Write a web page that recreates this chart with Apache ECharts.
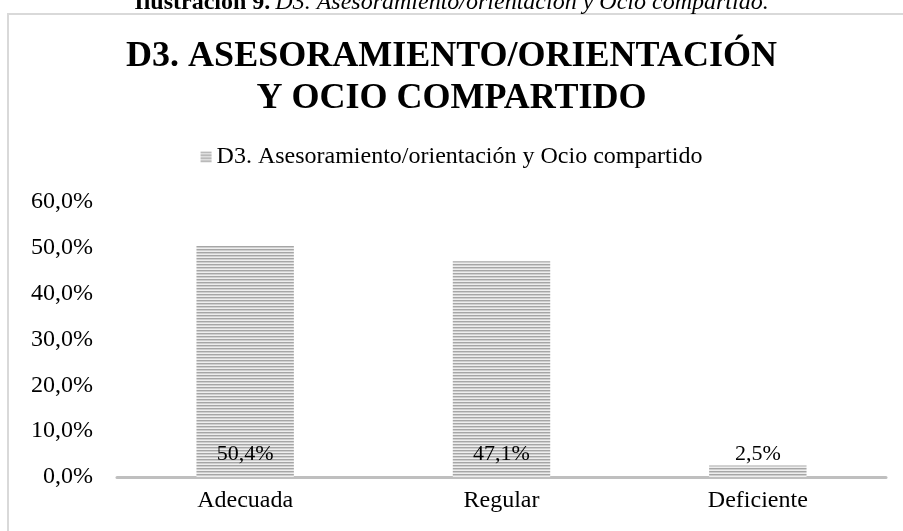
<!DOCTYPE html>
<html>
<head>
<meta charset="utf-8">
<script src="https://cdn.jsdelivr.net/npm/echarts@6/dist/echarts.min.js"></script>
<style>
  html, body { margin: 0; padding: 0; background: #fff; }
  #chart { width: 903px; height: 531px; }
</style>
</head>
<body>
<div id="chart"></div>
<script>
// datos del gráfico
var categories = ['Adecuada', 'Regular', 'Deficiente'];
var values = [50.4, 47.1, 2.5];
var seriesName = 'D3. Asesoramiento/orientación y Ocio compartido';
var yTicks = [0, 10, 20, 30, 40, 50, 60];

// trama de rayas horizontales (como el relleno de Excel)
function stripes() {
  var c = document.createElement('canvas');
  c.width = 4; c.height = 3;
  var ctx = c.getContext('2d');
  ctx.fillStyle = '#a6a6a6'; ctx.fillRect(0, 0, 4, 1);
  ctx.fillStyle = '#cfcfcf'; ctx.fillRect(0, 1, 4, 1);
  ctx.fillStyle = '#eeeeee'; ctx.fillRect(0, 2, 4, 1);
  return c;
}
var pattern = { image: stripes(), repeat: 'repeat' };

var chart = echarts.init(document.getElementById('chart'));
var font = '"Liberation Serif", "Times New Roman", serif';

var option = {
  backgroundColor: '#fff',
  animation: false,
  title: [{
    text: '{b|Ilustración 9.} {i|' + seriesName + '.}',
    left: 'center',
    top: -14,
    textStyle: {
      rich: {
        b: { fontFamily: font, fontSize: 24, fontWeight: 'bold', color: '#000' },
        i: { fontFamily: font, fontSize: 24, fontStyle: 'italic', fontWeight: 'normal', color: '#000' }
      }
    }
  }, {
    text: 'D3. ASESORAMIENTO/ORIENTACIÓN\nY OCIO COMPARTIDO',
    left: 'center',
    top: 31,
    textStyle: {
      fontFamily: font, fontSize: 36, fontWeight: 'bold', color: '#000',
      lineHeight: 42
    }
  }],
  graphic: [{
    type: 'rect',
    shape: { x: 8, y: 14, width: 920, height: 540 },
    style: { fill: null, stroke: '#d9d9d9', lineWidth: 2 },
    silent: true
  }],
  legend: {
    top: 140,
    left: 'center',
    itemWidth: 11,
    itemHeight: 11,
    itemGap: 6,
    icon: 'rect',
    textStyle: { fontFamily: font, fontSize: 24, color: '#000' },
    data: [{ name: seriesName, itemStyle: { color: pattern } }]
  },
  grid: { left: 117, right: 17, top: 202, bottom: 54 },
  xAxis: {
    type: 'category',
    data: categories,
    axisLine: { lineStyle: { color: '#bfbfbf', width: 3 } },
    axisTick: { show: false },
    axisLabel: { fontFamily: font, fontSize: 24, color: '#000', margin: 12 }
  },
  yAxis: {
    type: 'value',
    min: yTicks[0],
    max: yTicks[yTicks.length - 1],
    interval: 10,
    splitLine: { show: false },
    axisLine: { show: false },
    axisTick: { show: false },
    axisLabel: {
      fontFamily: font, fontSize: 24, color: '#000', margin: 24,
      formatter: function (v) { return v.toFixed(1).replace('.', ',') + '%'; }
    }
  },
  series: [{
    name: seriesName,
    type: 'bar',
    data: values,
    barWidth: '38%',
    itemStyle: { color: pattern },
    label: {
      show: true,
      position: 'insideBottom',
      distance: 12,
      fontFamily: font, fontSize: 22, color: '#000',
      formatter: function (p) { return p.value.toFixed(1).replace('.', ',') + '%'; }
    }
  }]
};
chart.setOption(option);
</script>
</body>
</html>
